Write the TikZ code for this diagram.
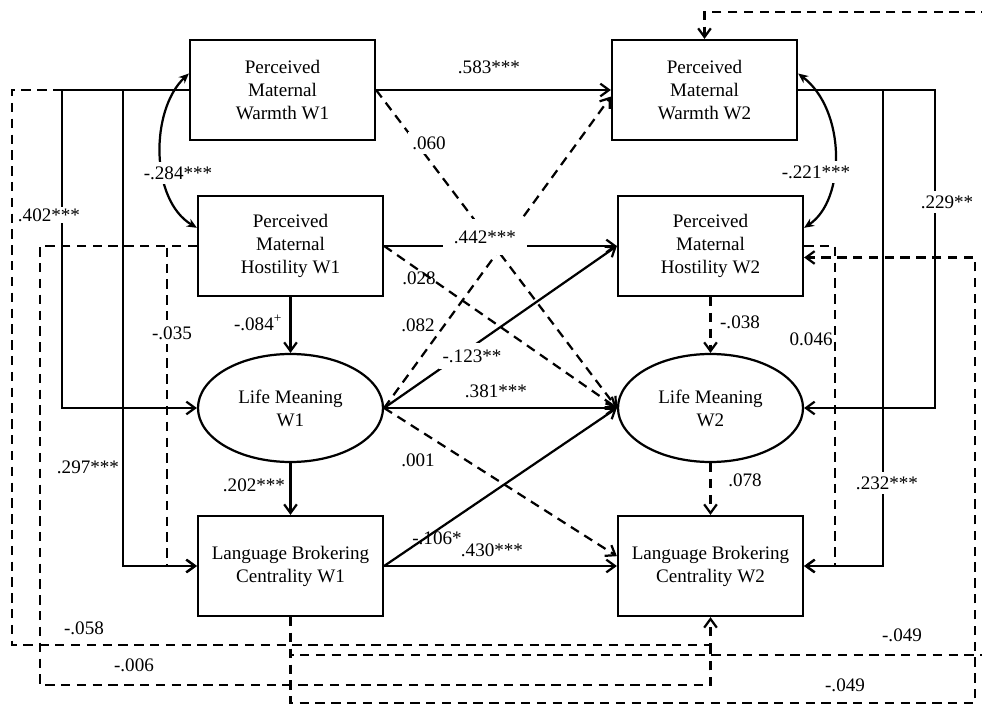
\documentclass[tikz,border=0pt]{standalone}
\usepackage{fontspec}
\setmainfont{Liberation Serif}
\usepackage{tikz}
\usetikzlibrary{arrows.meta,shapes.geometric}

\newcommand{\pathfont}{\fontsize{16.3pt}{19.6pt}\selectfont}

\begin{document}
\begin{tikzpicture}[x=0.03cm,y=-0.03cm,
  box/.style={draw,line width=1.9pt,minimum width=5.55cm,minimum height=3.0cm,
    align=center,inner sep=1pt,font=\pathfont},
  oval/.style={draw,ellipse,line width=1.9pt,minimum width=5.55cm,minimum height=3.24cm,
    align=center,inner sep=0pt,font=\pathfont},
  arr/.style={line width=1.9pt,-{Straight Barb[length=2.6mm,width=3.8mm]}},
  dsh/.style={dash pattern=on 8pt off 5.5pt},
  dbl/.style={line width=1.9pt,{Stealth[length=3mm,width=2.6mm]}-{Stealth[length=3mm,width=2.6mm]}},
  lbl/.style={font=\pathfont,inner sep=1pt},
  cut/.style={lbl,fill=white}]
  % cross-lagged path model, two waves
  \useasboundingbox (0,0) rectangle (982,707);

  \node[box]  (pmwa) at (282.5,90)  {Perceived\\Maternal\\Warmth W1};
  \node[box]  (pmwb) at (704.5,90)  {Perceived\\Maternal\\Warmth W2};
  \node[box]  (pmha) at (290.5,246) {Perceived\\Maternal\\Hostility W1};
  \node[box]  (pmhb) at (710.5,246) {Perceived\\Maternal\\Hostility W2};
  \node[oval] (lma)  at (290.5,408) {Life Meaning\\W1};
  \node[oval] (lmb)  at (710.5,408) {Life Meaning\\W2};
  \node[box]  (lbca) at (290.5,566) {Language Brokering\\Centrality W1};
  \node[box]  (lbcb) at (710.5,566) {Language Brokering\\Centrality W2};

  \coordinate (ca) at (62,0);
  \coordinate (cb) at (123,0);
  \coordinate (cc) at (12,0);
  \coordinate (cd) at (40,0);
  \coordinate (ce) at (167,0);
  \coordinate (cf) at (935,0);
  \coordinate (cg) at (883,0);
  \coordinate (ch) at (835,0);
  \coordinate (ci) at (975,0);
  \coordinate (cj) at (988,0);
  \coordinate (ra) at (0,645);
  \coordinate (rb) at (0,655);
  \coordinate (rc) at (0,685);
  \coordinate (rd) at (0,703);
  \coordinate (re) at (0,12);
  \coordinate (jn) at (710.5,645);

  \draw[arr] (pmwa.east) -- (pmwb.west);
  \draw[arr] (pmha.east) -- (pmhb.west);
  \draw[arr] (lma.east) -- (lmb.west);
  \draw[arr] (lbca.east) -- (lbcb.west);
  \draw[arr] (pmha.south) -- (lma.north);
  \draw[arr] (lma.south) -- (lbca.north);
  \draw[arr] (lma.east) -- (pmhb.west);
  \draw[arr] (lbca.east) -- (lmb.west);
  \draw[arr,dsh] (pmwa.east) -- (lmb.west);
  \draw[arr,dsh] (pmha.east) -- (lmb.west);
  \draw[arr,dsh] (lma.east) -- (pmwb.184);
  \draw[arr,dsh] (lma.east) -- (lbcb.174);
  \draw[arr,dsh] (pmhb.south) -- (lmb.north);
  \draw[arr,dsh] (lmb.south) -- (lbcb.north);

  \draw[arr] (pmwa.west) -- (pmwa.west -| ca) |- (lma.west);
  \draw[arr] (pmwa.west) -- (pmwa.west -| cb) |- (lbca.west);
  \draw[arr,dsh] (pmwa.west) -- (pmwa.west -| cc) -- (cc |- ra) -| (lbcb.south);
  \draw[dsh,line width=1.9pt] (pmha.west) -- (pmha.west -| cd) -- (cd |- rc) -| (jn);
  \draw[arr,dsh] (pmha.west) -- (pmha.west -| ce) |- (lbca.west);
  \draw[arr] (pmwb.east) -- (pmwb.east -| cf) |- (lmb.east);
  \draw[arr] (pmwb.east) -- (pmwb.east -| cg) |- (lbcb.east);
  \draw[arr,dsh] (pmhb.east) -- (pmhb.east -| ch) |- (lbcb.east);
  \draw[arr,dsh] (lbca.south) -- (lbca.south |- rb) -- (cj |- rb) -- (cj |- re) -| (pmwb.north);
  \draw[arr,dsh] (lbca.south) -- (lbca.south |- rd) -- (ci |- rd) |- (pmhb.-7);

  \draw[dbl] (pmwa.170) .. controls (150,110) and (150,200) .. (pmha.169);
  \draw[dbl] (pmwb.10) .. controls (846,110) and (846,200) .. (pmhb.11);

  \node[lbl] (l583) at (489,67)  {.583***};
  \node[cut,inner sep=4pt] (l060) at (429,143) {.060};
  \node[cut,inner xsep=9pt,inner ysep=10pt] (l442) at (485,237) {.442***};
  \node[lbl] (l028) at (419,278) {.028};
  \node[lbl] (l082) at (418,325) {.082};
  \node[cut,inner xsep=3pt,inner ysep=6pt] (l123) at (472,356) {-.123**};
  \node[lbl] (l381) at (496,391) {.381***};
  \node[lbl] (l001) at (418,460) {.001};
  \node[lbl] (l106) at (437,538) {-.106*};
  \node[lbl] (l430) at (492,550) {.430***};
  \node[lbl] (l084) at (258,323) {-.084\textsuperscript{+}};
  \node[lbl] (l202) at (254,485) {.202***};
  \node[lbl] (l038) at (740,322) {-.038};
  \node[lbl] (l078) at (745,480) {.078};
  \node[cut] (l402) at (49,215)  {.402***};
  \node[cut,inner ysep=4pt] (l284) at (178,173) {-.284***};
  \node[cut,inner ysep=4pt] (l035) at (172,333) {-.035};
  \node[lbl] (l297) at (88,467)  {.297***};
  \node[lbl] (l058) at (84,628)  {-.058};
  \node[lbl] (l006) at (134,665) {-.006};
  \node[cut,inner ysep=4pt] (l221) at (816,172) {-.221***};
  \node[cut,inner ysep=4pt] (l229) at (947,202) {.229**};
  \node[lbl,anchor=east] (l046) at (834,339) {0.046};
  \node[cut,inner ysep=4pt] (l232) at (887,483) {.232***};
  \node[lbl] (l049a) at (902,635) {-.049};
  \node[lbl] (l049b) at (845,685) {-.049};
\end{tikzpicture}
\end{document}
